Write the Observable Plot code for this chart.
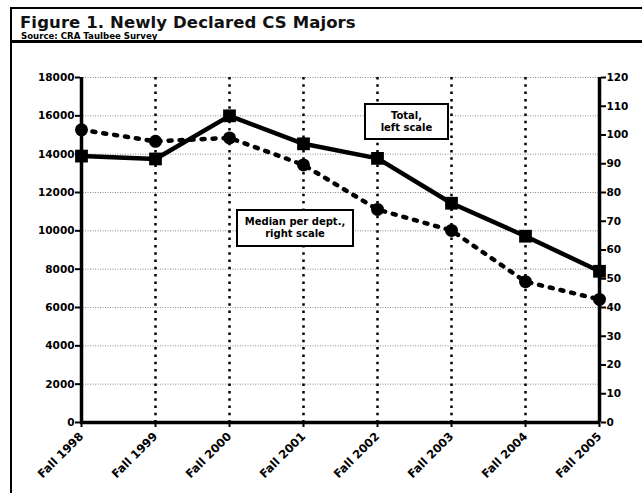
<!DOCTYPE html>
<html><head><meta charset="utf-8">
<script src="https://cdn.jsdelivr.net/npm/d3@7"></script>
<script src="https://cdn.jsdelivr.net/npm/@observablehq/plot@0.6"></script>
<style>
body{margin:0;background:#fff;font-family:"DejaVu Sans",Verdana,sans-serif;}
#wrap{position:relative;width:642px;height:493px;overflow:hidden;background:#fff;}
#titlebox{position:absolute;left:10px;top:7px;width:640px;height:31px;border-top:2px solid #000;border-bottom:3px solid #000;border-left:2px solid #000;}
#title{position:absolute;left:8px;top:4px;font-weight:bold;font-size:16.5px;color:#111;white-space:nowrap;letter-spacing:0.1px;}
#source{position:absolute;left:9px;top:22px;font-weight:bold;font-size:8.6px;color:#000;white-space:nowrap;}
#frame{position:absolute;left:10px;top:40px;width:2px;height:460px;background:#000;}
#chart{position:absolute;left:0;top:0;}
.note{position:absolute;border:2px solid #000;background:#fff;font-weight:bold;font-size:10px;text-align:center;line-height:12px;box-sizing:border-box;display:flex;align-items:center;justify-content:center;}
</style></head>
<body>
<div id="wrap">
  <div id="chart"></div>
  <div id="titlebox">
    <div id="title">Figure 1. Newly Declared CS Majors</div>
    <div id="source">Source: CRA Taulbee Survey</div>
  </div>
  <div id="frame"></div>
  <div class="note" style="left:364px;top:103px;width:85px;height:37px;">Total,<br>left scale</div>
  <div class="note" style="left:236px;top:209px;width:118px;height:38px;">Median per dept.,<br>right scale</div>
</div>
<script>
const categories = ["Fall 1998","Fall 1999","Fall 2000","Fall 2001","Fall 2002","Fall 2003","Fall 2004","Fall 2005"];
const totalMajors = [13900, 13750, 16000, 14540, 13780, 11440, 9720, 7890];
const medianPerDept = [101.8, 97.8, 99.0, 89.6, 74.1, 66.8, 49.0, 42.8];
const leftTicks = [0,2000,4000,6000,8000,10000,12000,14000,16000,18000];
const rightTicks = [0,10,20,30,40,50,60,70,80,90,100,110,120];

const leftMax = 18000, rightMax = 120;
const k = leftMax / rightMax;
const totalData = categories.map((c,i)=>({cat:c, v:totalMajors[i]}));
const medianData = categories.map((c,i)=>({cat:c, v:medianPerDept[i]*k}));
const innerCats = categories.slice(1, -1);

const plot = Plot.plot({
  width: 642, height: 493,
  marginLeft: 80, marginRight: 42, marginTop: 77, marginBottom: 71,
  style: {fontFamily: '"DejaVu Sans", Verdana, sans-serif', fontWeight: "bold", background: "transparent", color: "#000"},
  x: {type: "point", domain: categories, padding: 0},
  y: {domain: [0, leftMax]},
  marks: [
    Plot.ruleY(leftTicks.slice(1), {stroke: "#888", strokeWidth: 1, strokeDasharray: "1,1.5"}),
    Plot.ruleX(innerCats, {stroke: "#000", strokeWidth: 2.5, strokeDasharray: "2.5,4.8"}),
    Plot.axisY({ticks: leftTicks, tickSize: 5, tickPadding: 1, tickFormat: d => String(d), fontSize: 10.5, fontWeight: "bold", strokeWidth: 2, label: null}),
    Plot.axisY({anchor: "right", ticks: rightTicks.map(t => t*k), tickSize: 5, tickPadding: 1, tickFormat: d => String(Math.round(d/k)), fontSize: 10.5, fontWeight: "bold", strokeWidth: 2, label: null}),
    Plot.axisX({tickRotate: -45, tickSize: 5, tickPadding: 7, fontSize: 11.5, fontWeight: "bold", strokeWidth: 2, label: null}),
    Plot.ruleX([categories[0]], {stroke: "#000", strokeWidth: 3.5}),
    Plot.ruleX([categories[categories.length-1]], {stroke: "#000", strokeWidth: 3.5}),
    Plot.ruleY([0], {stroke: "#000", strokeWidth: 3.5}),
    Plot.line(medianData, {x: "cat", y: "v", stroke: "#000", strokeWidth: 4.5, strokeDasharray: "3,8", strokeLinecap: "round"}),
    Plot.line(totalData, {x: "cat", y: "v", stroke: "#000", strokeWidth: 4.5}),
    Plot.dot(medianData, {x: "cat", y: "v", r: 6.5, fill: "#000", stroke: "none"}),
    Plot.dot(totalData, {x: "cat", y: "v", symbol: "square", r: 7.2, fill: "#000", stroke: "none"})
  ]
});
document.getElementById("chart").appendChild(plot);
</script>
</body></html>
